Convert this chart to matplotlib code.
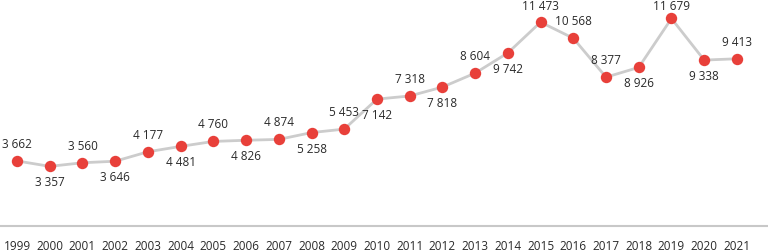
import matplotlib
matplotlib.use("Agg")
import matplotlib.pyplot as plt

years = list(range(1999, 2022))
values = [3662, 3357, 3560, 3646, 4177, 4481, 4760, 4826, 4874, 5258, 5453,
          7142, 7318, 7818, 8604, 9742, 11473, 10568, 8377, 8926, 11679, 9338, 9413]
label_pos = ['above', 'below', 'above', 'below', 'above', 'below', 'above', 'below',
             'above', 'below', 'above', 'below', 'above', 'below', 'above', 'below',
             'above', 'above', 'above', 'below', 'above', 'below', 'above']

plt.rcParams['font.family'] = ['Open Sans', 'DejaVu Sans']

W, H = 768, 252
fig = plt.figure(figsize=(W / 100, H / 100), dpi=100)
ax = fig.add_axes([0, 26/252, 1, 1 - 26/252])

ax.plot(years, values, color='#cccccc', linewidth=2, zorder=1)
ax.plot(years, values, 'o', color='#e8403a', markersize=8.2, markeredgewidth=0, zorder=2)

ax.set_xlim(1998.48, 2021.95)
ax.set_ylim(0, 12720)

def fmt(v):
    return f"{v:,}".replace(",", " ")

fig.canvas.draw()
for x, v, p in zip(years, values, label_pos):
    _, py = ax.transData.transform((x, v))
    off_px = 16.5 if p == 'above' else -16.5
    ty = py + off_px
    ty = min(ty, H - 7)  # keep label inside the figure
    dy_pt = (ty - py) * 72 / 100
    ax.annotate(fmt(v), (x, v), xytext=(0, dy_pt), textcoords='offset points',
                ha='center', va='center', fontsize=8.5, color='#2a2a2a')

ax.set_yticks([])
ax.set_xticks(years)
ax.set_xticklabels([str(y) for y in years], fontsize=8.5, color='#2a2a2a')
ax.tick_params(axis='x', length=0, pad=10)
for s in ['top', 'right', 'left']:
    ax.spines[s].set_visible(False)
ax.spines['bottom'].set_color('#c8c8c8')
ax.spines['bottom'].set_linewidth(1.5)

fig.savefig('out.png', dpi=100)
